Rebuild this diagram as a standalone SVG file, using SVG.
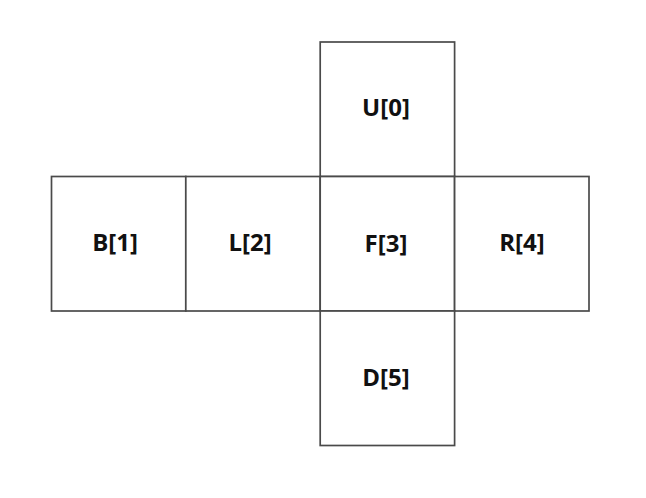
<svg xmlns="http://www.w3.org/2000/svg" width="646" height="498" viewBox="0 0 646 498">
<style>
.cell{fill:#fff;stroke:#4a4a4a;stroke-width:1.7}
.lbl{font-family:"Open Sans","Noto Sans",sans-serif;font-weight:bold;font-size:24px;fill:#111;text-anchor:middle;dominant-baseline:central}
</style>
<rect width="646" height="498" fill="#fff"/>
<g id="U"><rect class="cell" x="320.2" y="42" width="134.4" height="134.5"/><text class="lbl" x="386" y="106">U[0]</text></g>
<g id="B"><rect class="cell" x="51.5" y="176.5" width="134.3" height="134.5"/><text class="lbl" x="115" y="241">B[1]</text></g>
<g id="L"><rect class="cell" x="185.8" y="176.5" width="134.4" height="134.5"/><text class="lbl" x="250" y="241">L[2]</text></g>
<g id="F"><rect class="cell" x="320.2" y="176.5" width="134.4" height="134.5"/><text class="lbl" x="386" y="242">F[3]</text></g>
<g id="R"><rect class="cell" x="454.6" y="176.5" width="134.4" height="134.5"/><text class="lbl" x="522" y="241">R[4]</text></g>
<g id="D"><rect class="cell" x="320.2" y="311" width="134.4" height="134.5"/><text class="lbl" x="386" y="376">D[5]</text></g>
<g id="connectors"></g>
</svg>
